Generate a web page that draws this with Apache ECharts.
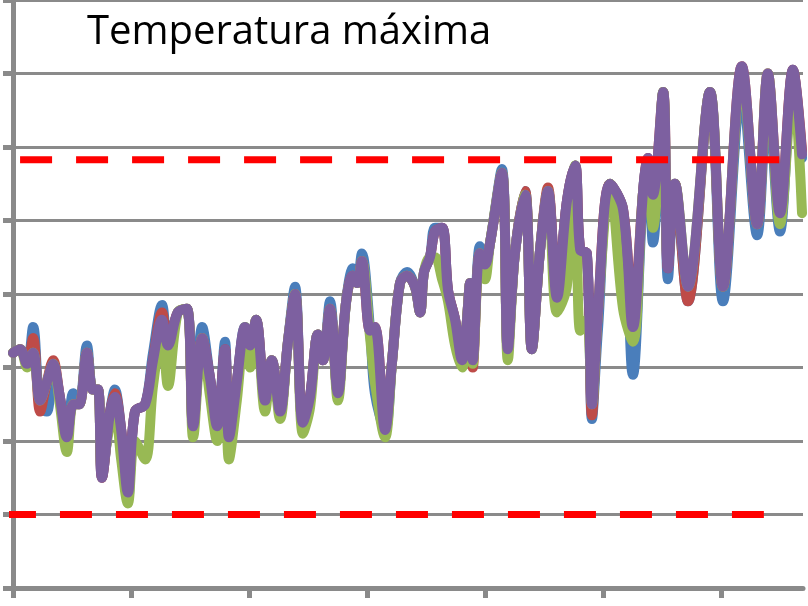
<!DOCTYPE html>
<html><head><meta charset="utf-8">
<script src="https://cdn.jsdelivr.net/npm/echarts@6/dist/echarts.min.js"></script>
<style>html,body{margin:0;padding:0;background:#fff}#c{width:808px;height:606px}</style>
</head><body><div id="c"></div><script>
// day index (x) of each reading
const days = [0,1.8,3.6,5.1,6.9,8.6,10.2,11.9,13.7,15.3,
16.8,18.8,20.3,21.6,22.6,24.7,25.9,27.5,29.2,31.0,
33.6,35.6,37.9,39.4,41.9,44.2,45.8,48.1,50.1,51.9,
53.9,54.9,56.9,59.0,60.3,61.8,64.1,65.8,67.9,69.9,
71.7,73.7,75.5,77.5,78.8,80.6,82.6,84.7,86.4,87.5,
88.7,90.8,92.0,94.6,96.4,98.4,100.2,102.2,103.5,104.5,
106.0,107.3,109.1,110.6,112.4,114.2,115.2,116.2,116.9,118.7,
120.0,121.3,124.3,125.8,127.6,130.2,131.9,134.0,136.0,138.3,
140.8,142.9,144.2,145.9,147.2,148.7,151.8,155.1,157.6,160.2,
161.4,162.7,165.3,166.5,168.3,171.6,177.2,180.5,185.3,189.2,
191.9,195.0,198.3,200.6];

const purpleT = [26.4,26.5,26.1,26.4,25.1,25.6,26.1,25.2,24.1,25.0,
25.0,26.4,25.4,25.4,23.0,24.8,25.2,24.3,22.6,24.8,
25.0,26.2,27.3,26.6,27.5,27.6,24.4,26.8,25.7,24.4,
26.5,24.1,25.6,27.1,26.6,27.3,25.1,26.2,24.8,26.7,
28.0,24.5,25.2,26.9,26.2,27.6,25.3,27.8,28.5,28.3,
28.9,27.0,27.1,24.3,26.2,28.3,28.5,28.2,27.5,28.6,
29.0,29.7,29.8,28.1,27.3,26.2,27.0,28.3,26.2,29.1,
28.8,29.4,31.3,26.5,29.1,30.7,26.5,29.2,30.8,27.9,
30.5,31.5,29.2,29.1,25.0,27.5,31.0,30.3,27.1,30.8,
31.7,30.7,33.5,28.7,31.0,28.2,33.5,28.2,34.2,29.9,
34.0,30.2,34.1,31.8];

const blueT = [26.4,26.5,26.1,27.1,24.9,24.8,26.1,25.2,24.0,25.3,
25.0,26.6,25.4,25.4,23.0,24.8,25.4,24.3,22.4,24.8,
25.0,26.4,27.7,26.6,27.5,27.6,24.4,27.1,25.7,24.4,
26.7,24.1,25.6,27.1,26.6,27.3,25.1,26.2,24.8,26.7,
28.2,24.5,25.2,26.9,26.2,27.8,25.3,27.8,28.7,28.3,
29.1,27.0,25.3,24.3,26.2,28.3,28.6,28.2,27.5,28.6,
29.0,29.8,29.8,28.1,27.3,26.2,27.0,28.3,26.2,29.3,
28.8,29.4,31.4,26.5,29.1,30.8,26.5,29.2,30.8,27.9,
30.5,31.5,29.2,29.1,24.6,27.0,31.0,30.3,25.8,30.8,
31.7,29.4,33.5,28.4,31.0,27.8,33.5,27.8,33.6,29.6,
33.4,29.7,34.1,31.7];

const redT = [26.4,26.5,26.1,26.8,24.8,25.6,26.2,25.2,24.1,25.0,
25.0,26.4,25.4,25.4,23.0,24.8,25.3,24.3,22.6,24.8,
25.0,26.2,27.5,26.6,27.5,27.6,24.4,26.8,25.7,24.4,
26.5,24.1,25.6,27.0,26.6,27.3,25.1,26.2,24.8,26.7,
28.0,24.5,25.2,26.9,26.2,27.6,25.3,27.8,28.5,28.3,
28.9,27.0,27.1,24.3,26.2,28.3,28.5,28.2,27.5,28.6,
29.0,29.7,29.8,28.1,27.3,26.1,27.0,28.3,26.0,29.1,
28.8,29.4,31.3,26.5,29.1,30.8,26.5,29.2,30.9,27.9,
30.5,31.5,29.2,29.1,24.7,27.5,31.0,30.3,27.3,30.8,
31.7,30.7,33.5,28.7,31.0,27.8,33.5,28.2,34.2,29.9,
34.0,30.2,34.1,31.9];

const greenT = [26.4,26.5,26.0,26.4,25.1,25.6,26.1,25.0,23.7,25.0,
25.0,26.4,25.4,25.4,23.2,24.5,24.9,23.5,22.3,24.0,
23.5,25.5,27.0,25.5,27.5,27.6,24.1,26.8,25.2,24.0,
26.3,23.5,25.1,27.1,26.0,27.3,24.8,26.2,24.6,26.7,
28.0,24.2,24.9,26.9,26.2,27.6,25.1,27.8,28.5,28.3,
28.9,26.8,25.6,24.1,26.2,28.3,28.5,28.2,27.5,28.6,
29.0,29.0,28.4,27.8,26.6,26.0,27.0,28.3,26.1,29.1,
28.4,29.4,31.3,26.2,29.1,30.7,26.5,29.2,30.8,27.5,
28.2,31.5,27.0,27.3,25.0,27.5,31.0,27.6,26.7,30.8,
31.0,29.8,33.5,28.9,31.0,28.2,33.5,28.2,34.0,29.9,
34.0,29.9,33.7,30.2];

// reference thresholds (value) and their drawn extent (days)
const upperLimit = 31.65;
const lowerLimit = 22.0;
const upperSpan = [1.8, 194.8];
const lowerSpan = [-2.3, 190.9];
const xTicks = [0, 30, 60, 90, 120, 150, 180];

const pair = ys => days.map((d, i) => [d, ys[i]]);
const gray = '#8a8a8a';

const lineSeries = (name, ys, color) => ({
  name, type: 'line', data: pair(ys), smooth: 0.35, symbol: 'none',
  lineStyle: { color, width: 10, cap: 'round', join: 'round' }
});
const limitSeries = (val, span) => ({
  type: 'line', symbol: 'none', clip: false, z: 5,
  data: [[span[0], val], [span[1], val]],
  lineStyle: { color: '#ff0000', width: 7, type: [32, 24], cap: 'butt' }
});

const chart = echarts.init(document.getElementById('c'), null, { renderer: 'canvas' });
chart.setOption({
  animation: false,
  backgroundColor: '#ffffff',
  title: {
    text: 'Temperatura máxima', left: 82, top: 8,
    textStyle: { fontFamily: 'Open Sans', fontSize: 40, fontWeight: 'normal', color: '#000' }
  },
  grid: { left: 13, right: 5, top: -4, bottom: 18 },
  xAxis: {
    type: 'value', min: 0, max: 200.85,
    axisLine: { show: true, lineStyle: { color: gray, width: 5 } },
    axisTick: { show: true, customValues: xTicks, length: 10, lineStyle: { color: gray, width: 5 } },
    axisLabel: { show: false },
    splitLine: { show: false }
  },
  yAxis: {
    type: 'value', min: 20, max: 36, interval: 2,
    axisLine: { show: true, lineStyle: { color: gray, width: 5 } },
    axisTick: { show: true, length: 10, lineStyle: { color: gray, width: 5 } },
    axisLabel: { show: false },
    splitLine: { show: true, lineStyle: { color: gray, width: 3 } }
  },
  series: [
    lineSeries('A', blueT, '#4a7ebb'),
    lineSeries('B', redT, '#be4b48'),
    lineSeries('C', greenT, '#98b954'),
    lineSeries('D', purpleT, '#7d60a0'),
    limitSeries(upperLimit, upperSpan),
    limitSeries(lowerLimit, lowerSpan)
  ]
});
</script></body></html>
